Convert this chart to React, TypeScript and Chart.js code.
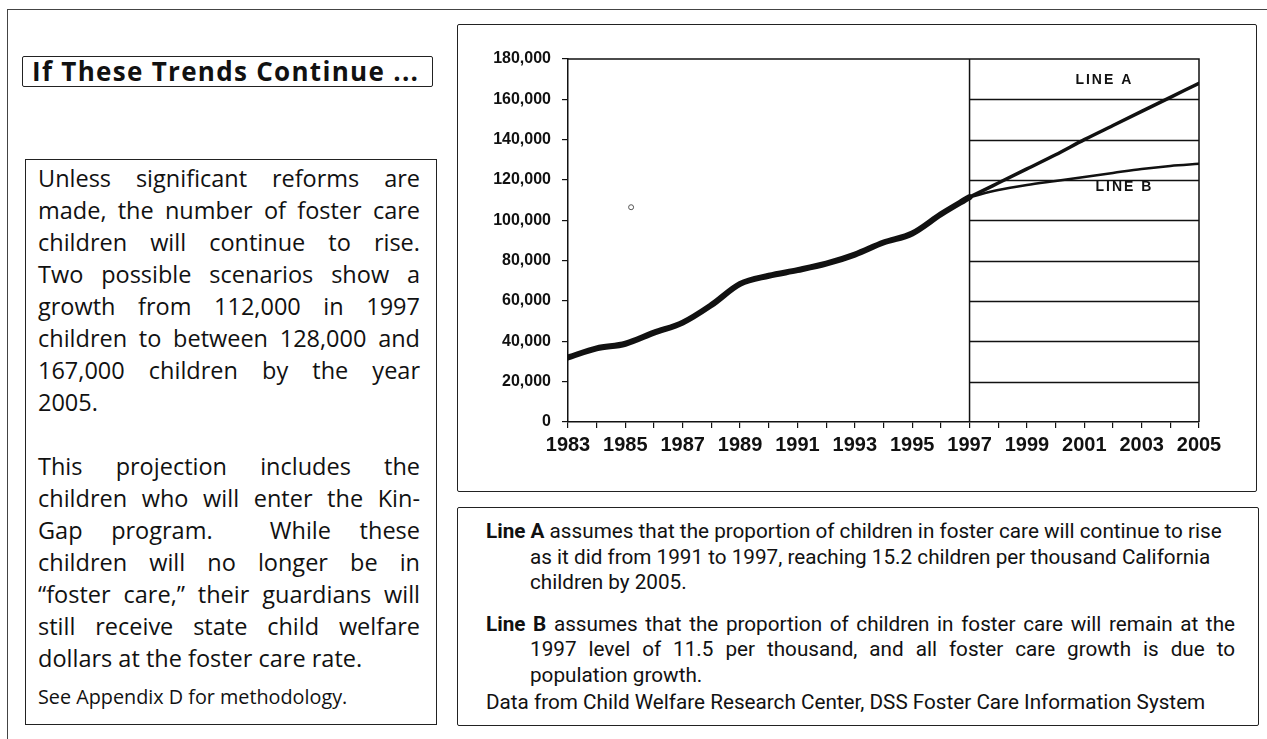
import React, { useEffect, useRef } from 'react';
import { Chart, registerables } from 'chart.js';

Chart.register(...registerables);

// ---------- data ----------
const histYears = [1983, 1984, 1985, 1986, 1987, 1988, 1989, 1990, 1991, 1992, 1993, 1994, 1995, 1996, 1997];
const fosterCare = [32000, 36500, 38800, 44300, 49300, 58000, 68500, 72500, 75300, 78500, 83000, 89000, 93500, 103000, 111500];

const projYears = [1997, 1998, 1999, 2000, 2001, 2002, 2003, 2004, 2005];
const lineA = [111500, 118500, 125500, 132500, 140000, 147000, 154000, 161000, 168000];
const lineB = [111500, 115000, 117500, 119500, 121500, 123500, 125500, 127000, 128000];

const projectionStart = 1997;
const xMin = 1983;
const xMax = 2005;
const yMin = 0;
const yMax = 180000;
const yStep = 20000;

const strayMark = [{ x: 1985.2, y: 106500 }];
const lineLabels = [
  { text: 'LINE A', x: 2001.7, y: 169500 },
  { text: 'LINE B', x: 2002.4, y: 116500 },
];

const para1 = [
  'Unless significant reforms are',
  'made, the number of foster care',
  'children will continue to rise.',
  'Two possible scenarios show a',
  'growth from 112,000 in 1997',
  'children to between 128,000 and',
  '167,000 children by the year',
  '2005.',
];
const para2 = [
  'This projection includes the',
  'children who will enter the Kin-',
  'Gap program.  While these',
  'children will no longer be in',
  '\u201cfoster care,\u201d their guardians will',
  'still receive state child welfare',
  'dollars at the foster care rate.',
];

const AXIS_FONT = "'Liberation Sans', Arial, sans-serif";

const framePlugin = {
  id: 'frame',
  beforeDatasetsDraw(chart: any) {
    const { ctx, chartArea: a, scales } = chart;
    const x = scales.x;
    const y = scales.y;
    const xs = x.getPixelForValue(projectionStart);
    ctx.save();
    ctx.strokeStyle = '#111';
    ctx.lineWidth = 1.3;
    ctx.beginPath();
    y.ticks.forEach((t: any) => {
      if (t.value > yMin && t.value < yMax) {
        const py = Math.round(y.getPixelForValue(t.value)) + 0.5;
        ctx.moveTo(xs, py);
        ctx.lineTo(a.right, py);
      }
    });
    ctx.stroke();
    ctx.lineWidth = 1.5;
    ctx.beginPath();
    ctx.moveTo(xs, a.top);
    ctx.lineTo(xs, a.bottom);
    ctx.moveTo(a.left, a.top);
    ctx.lineTo(a.right, a.top);
    ctx.lineTo(a.right, a.bottom);
    ctx.stroke();
    ctx.restore();
  },
  afterDatasetsDraw(chart: any) {
    const { ctx, scales } = chart;
    ctx.save();
    ctx.fillStyle = '#111';
    ctx.font = `bold 14px ${AXIS_FONT}`;
    (ctx as any).letterSpacing = '2px';
    ctx.textAlign = 'center';
    ctx.textBaseline = 'middle';
    lineLabels.forEach((l) => {
      ctx.fillText(l.text, scales.x.getPixelForValue(l.x), scales.y.getPixelForValue(l.y));
    });
    ctx.restore();
  },
};

function ChartPanel() {
  const ref = useRef<HTMLCanvasElement | null>(null);
  useEffect(() => {
    if (!ref.current) return;
    const common = {
      borderColor: '#111',
      pointRadius: 0,
      fill: false,
      cubicInterpolationMode: 'monotone' as const,
      borderCapStyle: 'round' as const,
      borderJoinStyle: 'round' as const,
    };
    const chart = new Chart(ref.current, {
      type: 'line',
      data: {
        datasets: [
          { ...common, label: 'Children in foster care', data: histYears.map((x, i) => ({ x, y: fosterCare[i] })), borderWidth: 6 },
          { ...common, label: 'Line A', data: projYears.map((x, i) => ({ x, y: lineA[i] })), borderWidth: 3.5 },
          { ...common, label: 'Line B', data: projYears.map((x, i) => ({ x, y: lineB[i] })), borderWidth: 2.5 },
          {
            label: 'mark',
            data: strayMark,
            showLine: false,
            pointRadius: 2.5,
            pointBackgroundColor: '#fff',
            pointBorderColor: '#555',
            pointBorderWidth: 1,
          },
        ],
      },
      options: {
        animation: false,
        responsive: true,
        maintainAspectRatio: false,
        events: [],
        layout: { padding: { top: 34, right: 57, left: 0, bottom: 0 } },
        plugins: { legend: { display: false }, tooltip: { enabled: false } },
        scales: {
          x: {
            type: 'linear',
            min: xMin,
            max: xMax,
            afterFit(s: any) {
              s.height = 69;
            },
            ticks: {
              stepSize: 1,
              autoSkip: false,
              maxRotation: 0,
              includeBounds: true,
              callback: (v: any) => (Number(v) % 2 === 1 ? String(v) : ''),
              font: { family: AXIS_FONT, size: 20, weight: 'bold' },
              color: '#111',
              padding: 5,
            },
            grid: { drawOnChartArea: false, drawTicks: true, tickLength: 6, color: '#111', lineWidth: 1.2 },
            border: { display: true, color: '#111', width: 1.5 },
          },
          y: {
            min: yMin,
            max: yMax,
            afterFit(s: any) {
              s.width = 110;
            },
            ticks: {
              stepSize: yStep,
              callback: (v: any) => Number(v).toLocaleString('en-US'),
              font: { family: AXIS_FONT, size: 16, weight: 'bold' },
              color: '#111',
              padding: 11,
            },
            grid: { drawOnChartArea: false, drawTicks: true, tickLength: 6, color: '#111', lineWidth: 1.2 },
            border: { display: true, color: '#111', width: 1.5 },
          },
        },
      } as any,
      plugins: [framePlugin],
    });
    return () => chart.destroy();
  }, []);
  return (
    <div style={{ position: 'absolute', left: 458, top: 25, width: 798, height: 466 }}>
      <canvas ref={ref} />
    </div>
  );
}

const bodyFont = "'Open Sans', 'Noto Sans', sans-serif";
const noteFont = "Roboto, 'Noto Sans', sans-serif";

function JLine({ text, justify, style }: { text: string; justify: boolean; style?: React.CSSProperties }) {
  return (
    <div
      style={{
        textAlign: justify ? 'justify' : 'left',
        textAlignLast: justify ? 'justify' : 'left',
        whiteSpace: 'pre',
        ...style,
      }}
    >
      {text}
    </div>
  );
}

export default function App() {
  return (
    <div style={{ position: 'fixed', left: 0, top: 0, width: 1267, height: 739, background: '#fff', overflow: 'hidden', color: '#111' }}>
      {/* outer frame */}
      <div style={{ position: 'absolute', left: 7, top: 9, width: 1260, height: 0, borderTop: '1px solid #444' }} />
      <div style={{ position: 'absolute', left: 7, top: 9, width: 0, height: 730, borderLeft: '1px solid #444' }} />

      {/* title box */}
      <div
        style={{
          position: 'absolute',
          left: 22,
          top: 56,
          width: 411,
          height: 31,
          boxSizing: 'border-box',
          border: '1.5px solid #222',
          borderRadius: 2,
          fontFamily: bodyFont,
          fontWeight: 700,
          fontSize: 26,
          letterSpacing: 1.3,
          lineHeight: '28px',
          paddingLeft: 9,
          whiteSpace: 'nowrap',
        }}
      >
        If These Trends Continue ...
      </div>

      {/* left text box */}
      <div
        style={{
          position: 'absolute',
          left: 25,
          top: 159,
          width: 412,
          height: 566,
          boxSizing: 'border-box',
          border: '1.5px solid #222',
          paddingTop: 2,
          paddingLeft: 12,
          paddingRight: 16,
          fontFamily: bodyFont,
          fontSize: 23.5,
          lineHeight: '32px',
        }}
      >
        {para1.map((t, i) => (
          <JLine key={'a' + i} text={t} justify={i < para1.length - 1} />
        ))}
        <div style={{ height: 32 }} />
        {para2.map((t, i) => (
          <JLine key={'b' + i} text={t} justify={i < para2.length - 1} />
        ))}
        <div style={{ marginTop: 11, fontSize: 19.8, lineHeight: '24px' }}>See Appendix D for methodology.</div>
      </div>

      {/* chart box */}
      <div
        style={{
          position: 'absolute',
          left: 457,
          top: 24,
          width: 800,
          height: 468,
          boxSizing: 'border-box',
          border: '1.5px solid #222',
          borderRadius: 2,
        }}
      />
      <ChartPanel />

      {/* bottom note box */}
      <div
        style={{
          position: 'absolute',
          left: 457,
          top: 507,
          width: 802,
          height: 219,
          boxSizing: 'border-box',
          border: '1.5px solid #222',
          borderRadius: 2,
          paddingTop: 11,
          paddingLeft: 28,
          fontFamily: noteFont,
          fontSize: 20.7,
          lineHeight: '25.5px',
        }}
      >
        <div style={{ width: 760 }}>
          <div style={{ whiteSpace: 'pre' }}>
            <b>Line A</b> assumes that the proportion of children in foster care will continue to rise
          </div>
          <div style={{ whiteSpace: 'pre', paddingLeft: 44 }}>as it did from 1991 to 1997, reaching 15.2 children per thousand California</div>
          <div style={{ whiteSpace: 'pre', paddingLeft: 44 }}>children by 2005.</div>
          <div style={{ marginTop: 16, width: 749, textAlign: 'justify', textAlignLast: 'justify' }}>
            <b>Line B</b> assumes that the proportion of children in foster care will remain at the
          </div>
          <div style={{ marginLeft: 44, width: 705, textAlign: 'justify', textAlignLast: 'justify' }}>
            1997 level of 11.5 per thousand, and all foster care growth is due to
          </div>
          <div style={{ paddingLeft: 44 }}>population growth.</div>
          <div style={{ marginTop: 2, whiteSpace: 'pre' }}>Data from Child Welfare Research Center, DSS Foster Care Information System</div>
        </div>
      </div>
    </div>
  );
}
